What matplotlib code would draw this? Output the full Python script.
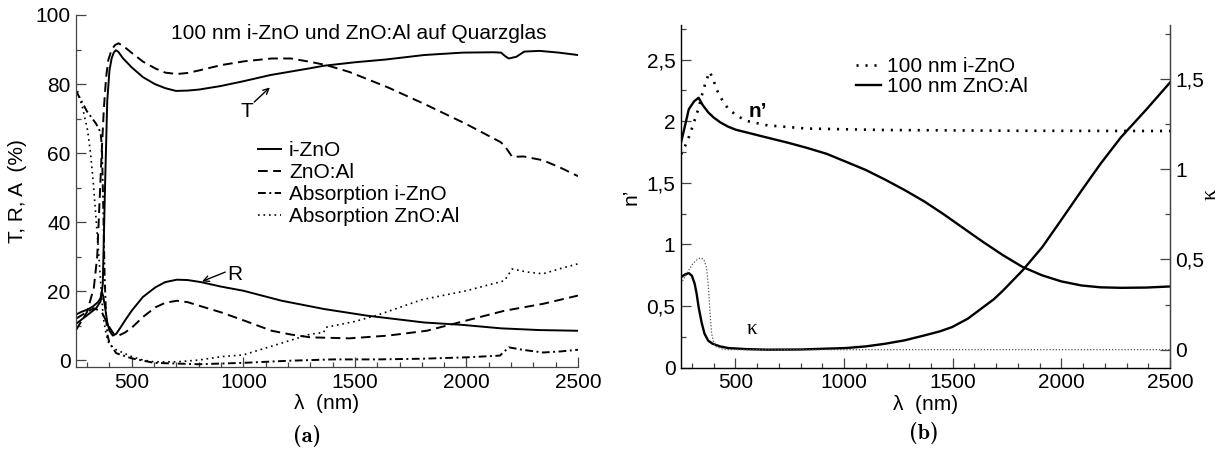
import numpy as np
import matplotlib.pyplot as plt
from matplotlib.ticker import MultipleLocator

plt.rcParams['font.family'] = ['Liberation Sans', 'DejaVu Sans']
plt.rcParams['axes.linewidth'] = 0.9

# ---------------- (a) T, R, A von 100 nm Schichten ----------------
wl_T_i = [250, 300, 340, 360, 370, 380, 390, 400, 410, 420, 429, 440, 460, 500, 550, 603, 650, 698,
          750, 802, 897, 1000, 1121, 1293, 1362, 1500, 1638, 1810, 1983, 2121, 2155, 2175, 2190,
          2224, 2259, 2328, 2414, 2500]
T_i = [10.5, 13, 15, 17, 22, 50, 75, 84, 87.5, 89.2, 89.8, 89.3, 87.5, 84.8, 82.0, 80.0, 78.8, 78.0,
       78.1, 78.4, 79.4, 80.8, 82.6, 84.5, 85.3, 86.3, 87.1, 88.4, 89.1, 89.2, 89.1, 88.0, 87.4,
       87.9, 89.4, 89.6, 89.1, 88.4]

wl_R_i = [250, 275, 300, 325, 350, 360, 366, 372, 380, 390, 400, 415, 430, 450, 475, 502, 550, 606,
          650, 702, 750, 810, 900, 1000, 1172, 1362, 1552, 1810, 1983, 2155, 2328, 2500]
R_i = [13.2, 14, 14.6, 15.5, 16.9, 18, 19.8, 18.5, 15.5, 11, 8.5, 7.1, 7.6, 9.5, 12.0, 14.5, 18.3, 21.1,
       22.6, 23.3, 23.2, 22.6, 21.3, 20.1, 17.2, 14.8, 12.9, 10.9, 10.2, 9.2, 8.7, 8.5]

wl_T_al = [250, 300, 330, 345, 355, 365, 375, 385, 395, 410, 425, 441, 470, 502, 550, 606, 650, 702,
           750, 806, 902, 1006, 1127, 1214, 1301, 1371, 1475, 1649, 1822, 1996, 2152, 2170, 2205,
           2257, 2343, 2420, 2500]
T_al = [8.7, 14, 21, 30, 45, 60, 73, 82, 87, 90, 91.3, 91.8, 90.6, 88.9, 86.5, 84.5, 83.3, 82.9,
        83.2, 84, 85.5, 86.6, 87.4, 87.4, 86.4, 85.5, 83.5, 79, 73.9, 68.5, 63.2, 62.2, 58.9,
        59, 57.9, 55.8, 53.3]

wl_R_al = [250, 300, 330, 350, 365, 380, 400, 420, 441, 470, 502, 550, 606, 650, 702, 750, 800, 902,
           1006, 1127, 1214, 1301, 1475, 1649, 1822, 1996, 2170, 2343, 2500]
R_al = [12, 14, 15, 14.5, 14, 12, 9.5, 7.5, 7.1, 8, 9.5, 12.5, 15.3, 16.6, 17.2, 16.8, 15.8, 13.8,
        11.4, 8.5, 7.4, 6.6, 6.3, 7.1, 8.5, 11.4, 14.3, 16.3, 18.7]

wl_A_i = [250, 300, 340, 360, 366, 372, 378, 385, 392, 400, 430, 500, 600, 800, 1000, 1200, 1400,
          1600, 1800, 2000, 2150, 2190, 2250, 2343, 2420, 2500]
A_i = [78, 72, 68.5, 66, 62, 45, 25, 12, 7, 5, 2, 0.5, -0.8, -1.2, -0.8, -0.2, 0.2, 0.2, 0.4,
       0.8, 1.3, 3.7, 3.0, 2.2, 2.5, 3.0]

wl_A_al = [250, 280, 302, 315, 328, 341, 354, 363, 372, 385, 398, 430, 500, 550, 600, 700, 800,
           900, 1000, 1100, 1200, 1300, 1360, 1370, 1500, 1600, 1800, 2000, 2170, 2205, 2274,
           2343, 2420, 2500]
A_al = [79.5, 73, 66.6, 60, 51, 40, 28.8, 20, 12.4, 7.5, 4.6, 3, 1, 0, -0.5, -0.5, 0, 1, 1.5, 3.5,
        5.5, 7.5, 8, 9.5, 11.2, 13, 17.5, 20.1, 23, 26.4, 25.5, 25, 26.5, 27.9]

# ---------------- (b) optische Konstanten ----------------
wl_n_al = [250, 268, 286, 310, 331, 350, 376, 400, 431, 467, 503, 560, 648, 740, 828, 920, 1003,
           1100, 1190, 1280, 1370, 1460, 1551, 1640, 1732, 1822, 1912, 2000, 2093, 2180, 2274,
           2390, 2500]
n_al = [1.825, 1.96, 2.097, 2.16, 2.19, 2.13, 2.07, 2.03, 1.99, 1.955, 1.93, 1.905, 1.866, 1.826,
        1.784, 1.735, 1.675, 1.604, 1.525, 1.44, 1.348, 1.243, 1.13, 1.02, 0.912, 0.817, 0.749,
        0.70, 0.667, 0.652, 0.648, 0.650, 0.659]

wl_n_i = [250, 280, 304, 330, 349, 366, 382, 398, 413, 440, 467, 510, 557, 648, 828, 1190, 1800, 2500]
n_i = [1.73, 1.84, 1.96, 2.10, 2.23, 2.33, 2.40, 2.34, 2.26, 2.17, 2.10, 2.04, 2.0, 1.966, 1.94,
       1.928, 1.922, 1.92]

wl_k_al = [250, 270, 286, 300, 313, 322, 331, 345, 358, 375, 395, 430, 467, 550, 648, 800, 1009,
           1100, 1190, 1280, 1370, 1440, 1497, 1570, 1641, 1690, 1732, 1822, 1912, 2000, 2093,
           2180, 2274, 2390, 2500]
k_al = [0.402, 0.418, 0.424, 0.41, 0.365, 0.31, 0.236, 0.15, 0.089, 0.05, 0.033, 0.018, 0.009,
        0.003, 0.0, 0.001, 0.009, 0.018, 0.033, 0.052, 0.079, 0.101, 0.125, 0.172, 0.236, 0.28,
        0.328, 0.44, 0.568, 0.72, 0.882, 1.03, 1.177, 1.33, 1.481]

wl_k_i = [250, 275, 304, 325, 340, 355, 367, 374, 380, 386, 391, 400, 413, 440, 467, 600, 1000, 2500]
k_i = [0.365, 0.42, 0.476, 0.50, 0.509, 0.50, 0.458, 0.38, 0.273, 0.16, 0.089, 0.04, 0.015, 0.004,
       0.0, 0.0, 0.0, 0.0]

fig = plt.figure(figsize=(12.25, 4.5), dpi=100)
W, H = 1225.0, 450.0

fs = 15
tick_kw = dict(which='both', direction='in', labelsize=fs, width=0.9, color='#444444')
serif = ['Liberation Serif', 'DejaVu Serif']

# ---------- linkes Diagramm ----------
ax1 = fig.add_axes([76 / W, 1 - 367 / H, 502 / W, 352 / H])
lw = 1.4
ax1.plot(wl_T_i, T_i, color='black', lw=lw)
ax1.plot(wl_R_i, R_i, color='black', lw=lw)
ax1.plot(wl_T_al, T_al, color='black', lw=lw, dashes=(5, 2.8))
ax1.plot(wl_R_al, R_al, color='black', lw=lw, dashes=(5, 2.8))
ax1.plot(wl_A_i, A_i, color='black', lw=lw, dashes=(4, 1.8, 1, 1.8))
ax1.plot(wl_A_al, A_al, color='black', lw=1.2, dashes=(1, 2.3))

ax1.set_xlim(250, 2500)
ax1.set_ylim(-2, 100)
ax1.spines['top'].set_visible(False)
ax1.spines['right'].set_visible(False)
for s in ('left', 'bottom'):
    ax1.spines[s].set_color('#444444')
ax1.set_xticks([500, 1000, 1500, 2000, 2500])
ax1.xaxis.set_minor_locator(MultipleLocator(100))
ax1.set_yticks([0, 20, 40, 60, 80, 100])
ax1.yaxis.set_minor_locator(MultipleLocator(10))
ax1.tick_params(**tick_kw)
ax1.tick_params(which='major', length=7, pad=4)
ax1.tick_params(which='minor', length=3.5)
ax1.set_xlabel('λ  (nm)', fontsize=fs, labelpad=2)
ax1.set_ylabel('T, R, A  (%)', fontsize=fs, labelpad=6)

ax1.text(1517, 94.7, '100 nm i-ZnO und ZnO:Al auf Quarzglas', fontsize=fs,
         ha='center', va='center')
arw = dict(arrowstyle='->', lw=1.0, color='black', shrinkA=0, shrinkB=0)
ax1.annotate('', xy=(1119, 79), xytext=(1049, 74.8), arrowprops=arw)
ax1.text(1014, 71.9, 'T', fontsize=fs, ha='center', va='center')
ax1.annotate('', xy=(815, 22.8), xytext=(919, 25.5), arrowprops=arw)
ax1.text(962, 24.8, 'R', fontsize=fs, ha='center', va='center')

ax1.legend(ax1.lines[0:1] + ax1.lines[2:3] + ax1.lines[4:6],
           ['i-ZnO', 'ZnO:Al', 'Absorption i-ZnO', 'Absorption ZnO:Al'],
           loc='upper left', bbox_to_anchor=(1065, 63.5), bbox_transform=ax1.transData,
           frameon=False, fontsize=fs, handlelength=1.1, handletextpad=0.4,
           labelspacing=0.15, borderpad=0, borderaxespad=0)

# ---------- rechtes Diagramm ----------
ax2 = fig.add_axes([681 / W, 1 - 367.7 / H, 489 / W, 342.7 / H])
ax2.plot(wl_n_i, n_i, color='black', lw=1.9, dashes=(0.8, 2.6), label='100 nm i-ZnO')
ax2.plot(wl_n_al, n_al, color='black', lw=1.7, label='100 nm ZnO:Al')
ax2.set_xlim(250, 2500)
ax2.set_ylim(0, 2.78)
ax2.spines['top'].set_visible(False)
for s in ('left', 'bottom', 'right'):
    ax2.spines[s].set_color('#444444')
ax2.set_xticks([500, 1000, 1500, 2000, 2500])
ax2.xaxis.set_minor_locator(MultipleLocator(100))
ax2.set_yticks([0, 0.5, 1, 1.5, 2, 2.5], ['0', '0,5', '1', '1,5', '2', '2,5'])
ax2.yaxis.set_minor_locator(MultipleLocator(0.25))
ax2.tick_params(**tick_kw)
ax2.tick_params(which='major', length=7, pad=4)
ax2.tick_params(which='minor', length=3.5)
ax2.set_xlabel('λ  (nm)', fontsize=fs, labelpad=2)
ax2.set_ylabel('n’', fontsize=fs, labelpad=4)

ax2r = ax2.twinx()
ax2r.plot(wl_k_al, k_al, color='black', lw=1.7)
ax2r.plot(wl_k_i, k_i, color='#555555', lw=0.9, dashes=(1, 1.5))
ax2r.set_ylim(-0.1, 1.8)
ax2r.spines['top'].set_visible(False)
ax2r.spines['right'].set_color('#444444')
ax2r.set_yticks([0, 0.5, 1, 1.5], ['0', '0,5', '1', '1,5'])
ax2r.yaxis.set_minor_locator(MultipleLocator(0.25))
ax2r.tick_params(**tick_kw)
ax2r.tick_params(which='major', length=7, pad=4)
ax2r.tick_params(which='minor', length=3.5)
# rechte Achsenbeschriftung (kappa, gedreht)
fig.text(1211 / W, 1 - 194 / H, 'κ', fontsize=fs + 1, family=serif, rotation=90,
         ha='center', va='center')

ax2.text(602, 2.08, 'n’', fontsize=fs, fontweight='bold', ha='center', va='center')
ax2.text(575, 0.31, 'κ', fontsize=fs, family=serif, ha='center', va='center')
ax2.legend(loc='upper left', bbox_to_anchor=(1053, 2.52), bbox_transform=ax2.transData,
           frameon=False, fontsize=fs, handlelength=1.2, handletextpad=0.3,
           labelspacing=0.05, borderpad=0, borderaxespad=0)

fig.text(307 / W, 1 - 436 / H, '(a)', family='cmb10', fontsize=16, ha='center', va='center')
fig.text(924 / W, 1 - 433 / H, '(b)', family='cmb10', fontsize=16, ha='center', va='center')

fig.savefig('out.png', dpi=100)
